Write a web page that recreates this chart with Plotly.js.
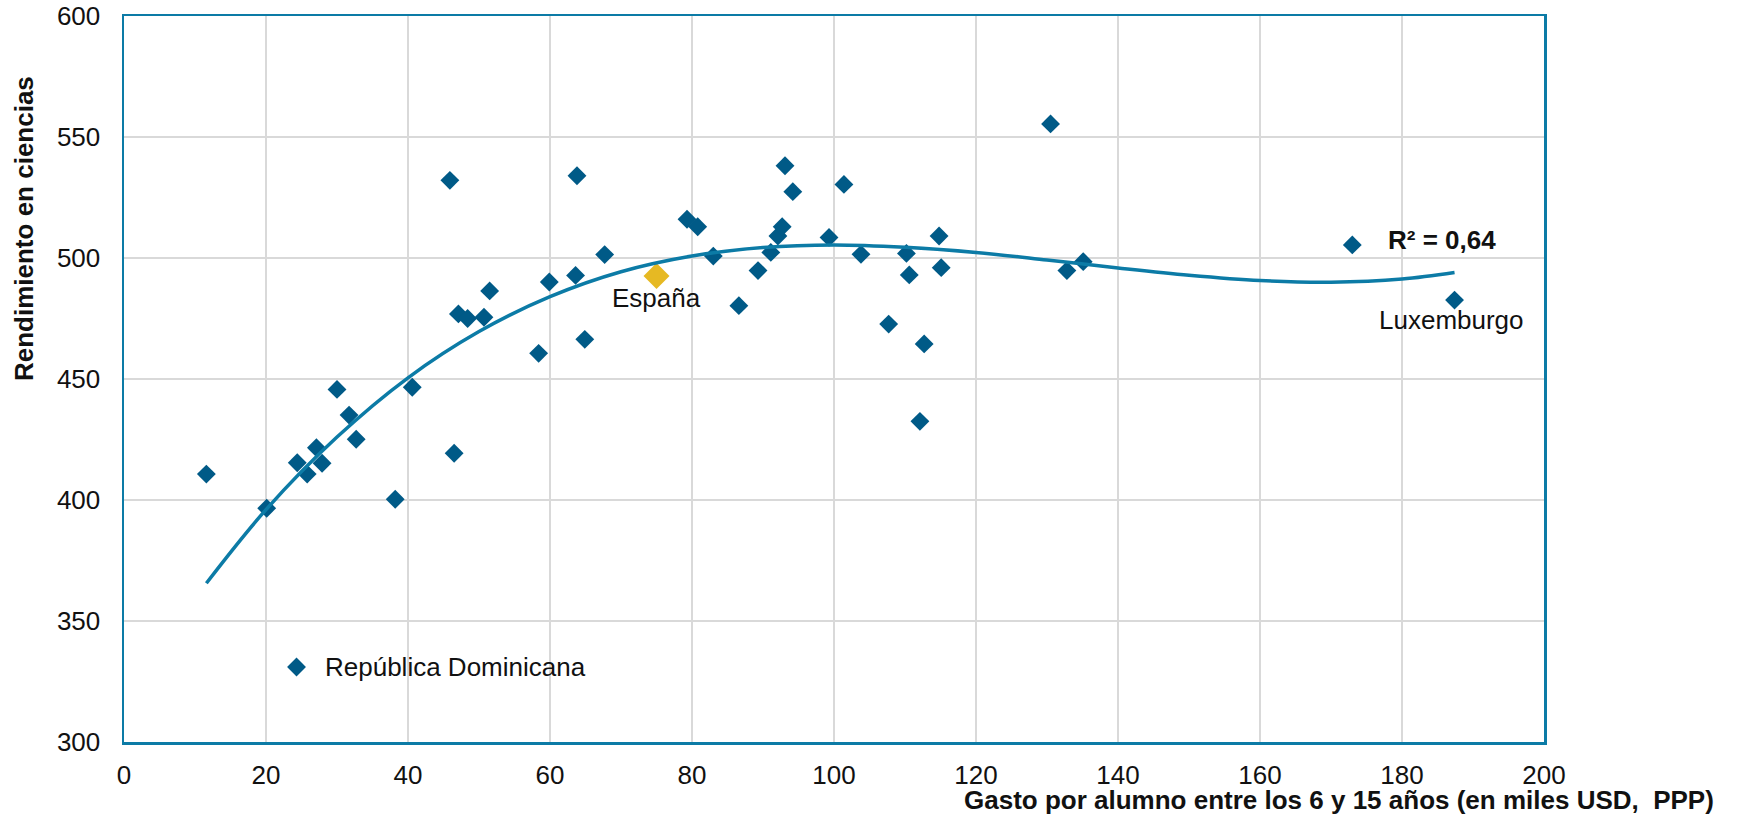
<!DOCTYPE html>
<html>
<head>
<meta charset="utf-8">
<script src="https://cdn.plot.ly/plotly-3.0.1.min.js"></script>
<style>html,body{margin:0;padding:0;background:#fff;}#chart{width:1741px;height:815px;}</style>
</head>
<body>
<div id="chart"></div>
<script>
// Countries: spending per student (thousand USD PPP) vs science score
const gasto = [11.6, 20.1, 24.4, 25.8, 27.1, 27.9, 30.0, 31.7, 32.7, 38.2, 40.6, 46.5, 45.9, 47.1, 48.4, 50.7, 51.5, 58.4, 59.9, 63.6, 63.8, 64.9, 67.7, 79.3, 80.8, 83.0, 86.6, 89.3, 91.1, 92.1, 92.7, 93.1, 94.2, 99.3, 101.4, 103.8, 107.7, 110.2, 110.6, 112.1, 112.7, 114.8, 115.1, 130.5, 132.8, 135.1, 173.0, 187.4, 24.3];
const ciencias = [410.7, 396.6, 415.4, 410.7, 421.6, 415.2, 445.7, 435.1, 425.1, 400.3, 446.6, 419.3, 532.1, 476.9, 475.0, 475.5, 486.4, 460.6, 490.1, 492.8, 534.0, 466.4, 501.4, 516.0, 512.9, 500.8, 480.3, 494.8, 502.3, 509.1, 512.9, 538.1, 527.4, 508.5, 530.4, 501.5, 472.7, 501.9, 493.0, 432.5, 464.5, 509.1, 496.0, 555.4, 494.8, 498.5, 505.4, 482.6, 331.0];

// Spain
const espanaX = [75.0];
const espanaY = [492.6];

// Trend line (polynomial trendline)
const trendX = [11.6, 20, 30, 40, 50, 60, 70, 80, 90, 100, 110, 120, 130, 140, 150, 160, 170, 180, 187.4];
const trendY = [365.6, 396, 426, 450.5, 469.6, 484, 494.3, 500.8, 504.3, 505.4, 504.4, 502.3, 499.2, 495.9, 492.9, 490.7, 490.0, 491.3, 494.0];

const xTicks = [0, 20, 40, 60, 80, 100, 120, 140, 160, 180, 200];
const yTicks = [300, 350, 400, 450, 500, 550, 600];

const labelEspana = 'España';
const labelLux = 'Luxemburgo';
const labelRD = 'República Dominicana';
const labelR2 = 'R² = 0,64';
const xTitle = 'Gasto por alumno entre los 6 y 15 años (en miles USD,\u00a0 PPP)';
const yTitle = 'Rendimiento en ciencias';

const FONT = '"Liberation Sans", Arial, Helvetica, sans-serif';
const BLUE = '#005a87';
const TEAL = '#0c7ba6';

const traces = [
  {
    x: gasto, y: ciencias, type: 'scatter', mode: 'markers',
    marker: {symbol: 'diamond', size: 14.5, color: BLUE, line: {width: 0}},
    hoverinfo: 'x+y', showlegend: false
  },
  {
    x: espanaX, y: espanaY, type: 'scatter', mode: 'markers',
    marker: {symbol: 'diamond', size: 20, color: '#e6b923', line: {width: 0}},
    showlegend: false
  },
  {
    x: trendX, y: trendY, type: 'scatter', mode: 'lines',
    line: {color: TEAL, width: 3.5, shape: 'spline', smoothing: 1},
    hoverinfo: 'skip', showlegend: false
  }
];

const layout = {
  width: 1741, height: 815,
  margin: {l: 124, r: 197, t: 16, b: 73, pad: 0},
  paper_bgcolor: '#ffffff', plot_bgcolor: '#ffffff',
  font: {family: FONT, size: 26, color: '#111111'},
  showlegend: false,
  xaxis: {
    range: [0, 200], tickvals: xTicks, ticktext: xTicks.map(String),
    showgrid: true, gridcolor: '#d9d9d9', gridwidth: 1.5,
    zeroline: false, showline: true, mirror: true, linecolor: TEAL, linewidth: 2.5,
    ticks: '', ticklabelstandoff: 8,
    tickfont: {family: FONT, size: 26, color: '#111111'}
  },
  yaxis: {
    range: [300, 600], tickvals: yTicks, ticktext: yTicks.map(String),
    showgrid: true, gridcolor: '#d9d9d9', gridwidth: 1.5,
    zeroline: false, showline: true, mirror: true, linecolor: TEAL, linewidth: 2.5,
    ticks: '', ticklabelstandoff: 16,
    tickfont: {family: FONT, size: 26, color: '#111111'}
  },
  annotations: [
    {x: espanaX[0], y: 483.5, xref: 'x', yref: 'y', text: labelEspana, showarrow: false,
     xanchor: 'center', yanchor: 'middle', font: {family: FONT, size: 26, color: '#111111'}},
    {x: 187.0, y: 474.4, xref: 'x', yref: 'y', text: labelLux, showarrow: false,
     xanchor: 'center', yanchor: 'middle', font: {family: FONT, size: 26, color: '#111111'}},
    {x: 185.6, y: 507.4, xref: 'x', yref: 'y', text: '<b>' + labelR2 + '</b>', showarrow: false,
     xanchor: 'center', yanchor: 'middle', font: {family: FONT, size: 26, color: '#111111'}},
    {x: 28.0, y: 331.0, xref: 'x', yref: 'y', text: labelRD, showarrow: false,
     xanchor: 'left', yanchor: 'middle', font: {family: FONT, size: 26, color: '#111111'}},
    {x: 1.121, y: -0.0799, xref: 'paper', yref: 'paper', text: '<b>' + xTitle + '</b>', showarrow: false,
     xanchor: 'right', yanchor: 'middle', font: {family: FONT, size: 26, color: '#111111'}},
    {x: -0.0704, y: 0.7066, xref: 'paper', yref: 'paper', text: '<b>' + yTitle + '</b>', showarrow: false,
     textangle: -90, xanchor: 'center', yanchor: 'middle', font: {family: FONT, size: 26, color: '#111111'}}
  ]
};

Plotly.newPlot('chart', traces, layout, {displayModeBar: false, staticPlot: true});
</script>
</body>
</html>
